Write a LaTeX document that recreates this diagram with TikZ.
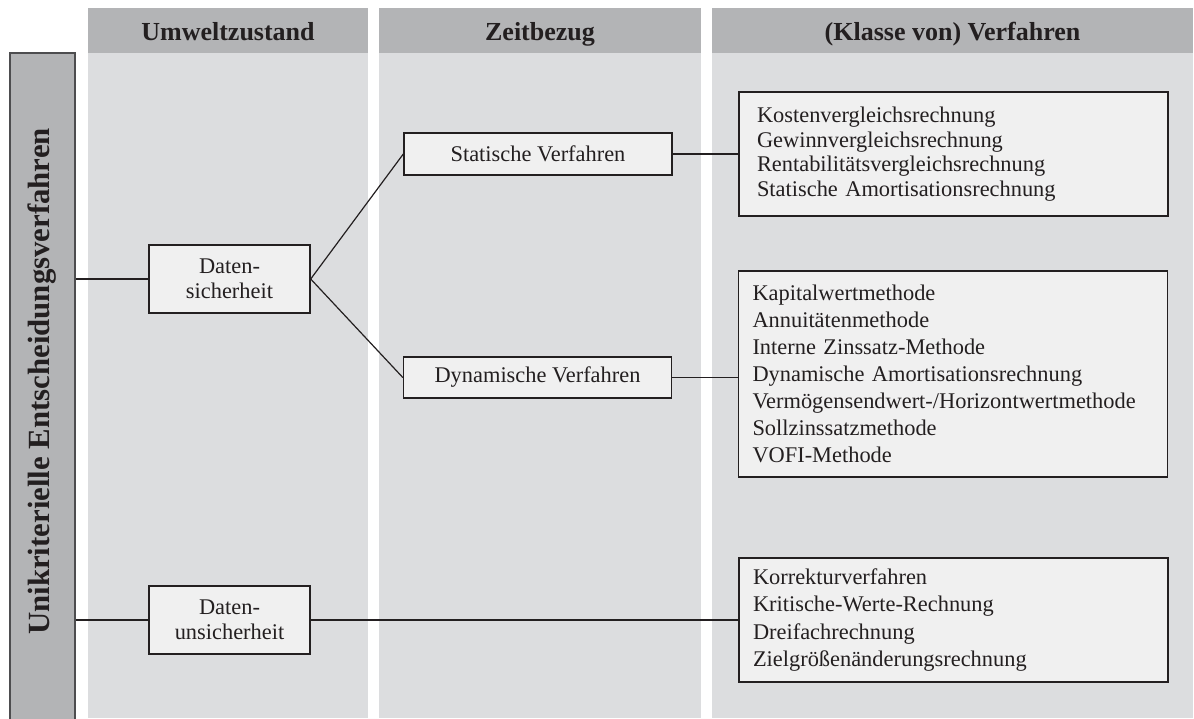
\documentclass[tikz,border=0pt]{standalone}
\usepackage{fontspec}
\setmainfont{Liberation Serif}
\definecolor{headgray}{HTML}{B3B4B6}
\definecolor{colgray}{HTML}{DCDDDF}
\definecolor{boxfill}{HTML}{F0F0F0}
\definecolor{ink}{HTML}{231F20}
\definecolor{barline}{HTML}{4D4D4F}
\begin{document}
\begin{tikzpicture}[x=0.5pt,y=-0.5pt,
  header/.style={fill=headgray, draw=none, inner sep=0pt, text=ink,
                 text height=9.5pt, text depth=0pt,
                 font=\fontsize{13}{15}\selectfont\bfseries},
  critbar/.style={fill=headgray, draw=barline, line width=0.8pt, inner sep=0pt},
  title/.style={text=ink, inner sep=0pt, font=\fontsize{15.4}{17}\selectfont\bfseries},
  box/.style={draw=ink, line width=0.7pt, fill=boxfill, text=ink, inner sep=0pt,
              align=center, font=\fontsize{11.2}{12.5}\selectfont},
  listbox/.style={draw=ink, line width=0.7pt, fill=boxfill, text=ink, inner ysep=0pt,
                  align=left},
  link/.style={draw=ink, line width=0.6pt}]
\useasboundingbox (0,0) rectangle (1194,718);

% column bodies
\fill[colgray] (88,53) rectangle (368,718);
\fill[colgray] (379,53) rectangle (701,718);
\fill[colgray] (712,53) rectangle (1193,718);

% column headers
\node[header, minimum width=140pt, minimum height=22.5pt] (h1) at (228,30.5) {Umweltzustand};
\node[header, minimum width=161pt, minimum height=22.5pt] (h2) at (540,30.5) {Zeitbezug};
\node[header, minimum width=240.5pt, minimum height=22.5pt] (h3) at (952.5,30.5) {(Klasse von) Verfahren};

% vertical title bar
\node[critbar, minimum width=32.5pt, minimum height=335pt] (crit) at (42.5,388) {};
\node[title, rotate=90] (crittext) at (42.5,381.5) {Unikriterielle Entscheidungsverfahren};

% environmental state
\node[box, minimum width=80.5pt, minimum height=34pt] (ds) at (229.5,279) {Daten-\\sicherheit};
\node[box, minimum width=80.5pt, minimum height=34pt] (du) at (229.5,620) {Daten-\\unsicherheit};

% time reference
\node[box, minimum width=134pt, minimum height=21pt] (sv) at (538,154) {Statische Verfahren};
\node[box, minimum width=134pt, minimum height=20.5pt] (dv) at (537.5,377.5) {Dynamische Verfahren};

% method lists
\node[listbox, inner xsep=9pt, text width=196.5pt, minimum height=62pt,
      font=\fontsize{11.2}{12.35}\selectfont] (l1) at (953.5,154)
  {Kostenvergleichsrechnung\\Gewinnvergleichsrechnung\\Rentabilitätsvergleichsrechnung\\Statische Amortisationsrechnung};
\node[listbox, inner xsep=7pt, text width=200.5pt, minimum height=103pt,
      font=\fontsize{11.2}{13.5}\selectfont] (l2) at (953,374)
  {Kapitalwertmethode\\Annuitätenmethode\\Interne Zinssatz-Methode\\Dynamische Amortisationsrechnung\\Vermögensendwert-/Horizontwertmethode\\Sollzinssatzmethode\\VOFI-Methode};
\node[listbox, inner xsep=7pt, text width=200.5pt, minimum height=62pt,
      font=\fontsize{11.2}{13.6}\selectfont] (l3) at (953.5,620)
  {Korrekturverfahren\\Kritische-Werte-Rechnung\\Dreifachrechnung\\Zielgrößenänderungsrechnung};

% connectors
\draw[link] (crit.east |- ds.west) -- (ds.west);
\draw[link] (crit.east |- du.west) -- (du.west);
\draw[link] (ds.east) -- (sv.west);
\draw[link] (ds.east) -- (dv.west);
\draw[link] (sv.east) -- (sv.east -| l1.west);
\draw[link] (dv.east) -- (dv.east -| l2.west);
\draw[link] (du.east) -- (du.east -| l3.west);
\end{tikzpicture}
\end{document}
